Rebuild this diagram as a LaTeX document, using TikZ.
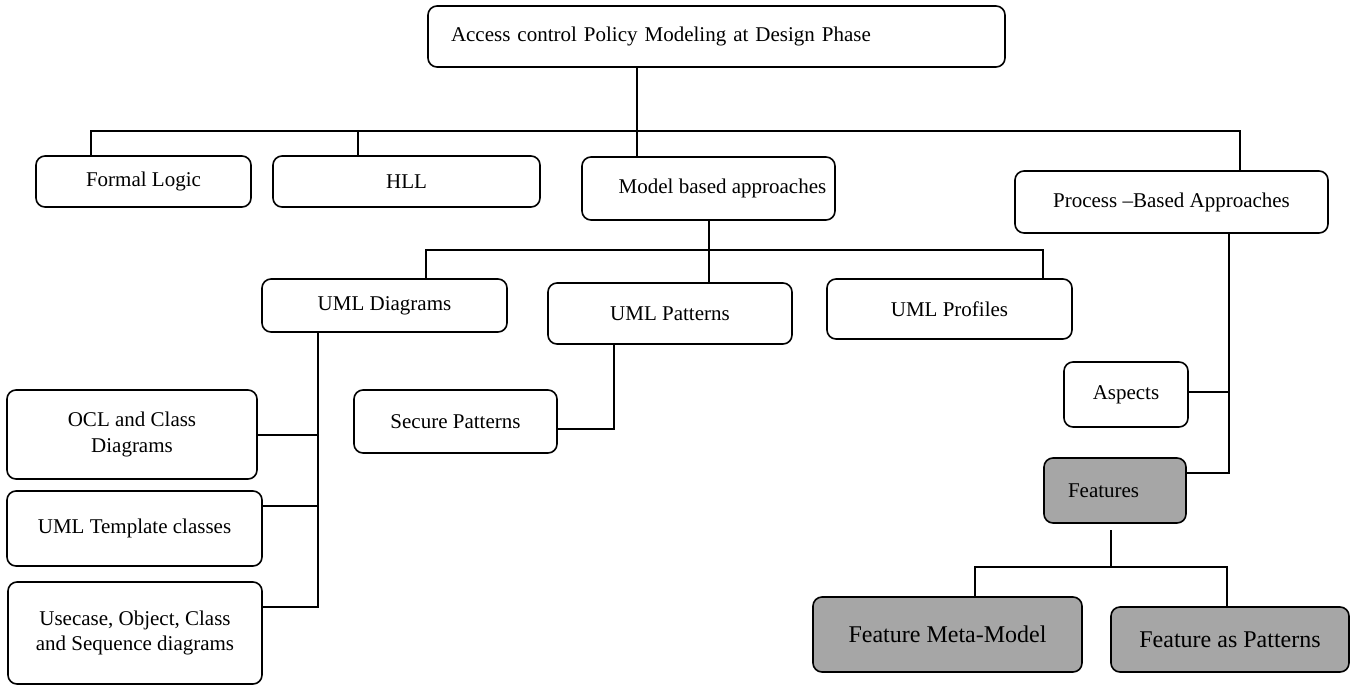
\documentclass[tikz,border=0pt]{standalone}
\usepackage{fontspec}
\setmainfont{Liberation Serif}
\tikzset{
    box/.style={draw, line width=1.6pt, rounded corners=9pt, inner sep=0pt, align=center,
        font=\fontsize{21}{25.5}\selectfont},
    greybox/.style={box, fill=black!35},
    link/.style={line width=1.6pt},
}
\begin{document}
\begin{tikzpicture}[x=1pt, y=-1pt]
            \useasboundingbox (0,0) rectangle (1355,686);

            \node[box, minimum height=61pt, text width=531pt, inner xsep=23pt, align=left] (top) at (716.5,36.5) {Access control Policy Modeling at Design Phase};

            \node[box, minimum width=215pt, minimum height=51pt] (formal) at (143.5,181.5) {Formal Logic};
            \node[box, minimum width=267pt, minimum height=51pt] (hll) at (406.5,181.5) {HLL};
            \node[box, minimum width=253pt, minimum height=63pt] (model) at (708.5,188.5) {\hspace*{28pt}Model based approaches};
            \node[box, minimum width=313pt, minimum height=62pt] (process) at (1171.5,202) {Process –Based Approaches};

            \node[box, minimum width=245pt, minimum height=53pt] (umldiag) at (384.5,305.5) {UML Diagrams};
            \node[box, minimum width=244pt, minimum height=61pt] (umlpat) at (670,313.5) {UML Patterns};
            \node[box, minimum width=245pt, minimum height=60pt] (umlprof) at (949.5,309) {UML Profiles};

            \node[box, minimum width=203pt, minimum height=63pt] (secure) at (455.5,421.5) {Secure Patterns};

            \node[box, minimum width=250pt, minimum height=89pt] (ocl) at (132,434.5) {OCL and Class\\Diagrams};
            \node[box, minimum width=255pt, minimum height=75pt] (templ) at (134.5,528.5) {UML Template classes};
            \node[box, minimum width=254pt, minimum height=102pt] (usecase) at (135,633) {Usecase, Object, Class\\and Sequence diagrams};

            \node[box, minimum width=124pt, minimum height=65pt] (aspects) at (1126,394.5) {Aspects};
            \node[greybox, minimum height=65pt, text width=94pt, inner xsep=24pt, align=left] (features) at (1115,490.5) {Features};
            \node[greybox, minimum width=269pt, minimum height=75pt, font=\fontsize{24}{28}\selectfont] (meta) at (947.5,634.5) {Feature Meta-Model};
            \node[greybox, minimum width=238pt, minimum height=65pt, font=\fontsize{24}{28}\selectfont] (featpat) at (1230,639.5) {Feature as Patterns};

            \coordinate (b1a) at (91,131);
            \coordinate (b1b) at (358,131);
            \coordinate (b1c) at (637,131);
            \coordinate (b1d) at (1240,131);

            \coordinate (b2a) at (426,250);
            \coordinate (b2b) at (709,250);
            \coordinate (b2c) at (1043,250);

            \coordinate (dtrunk) at (318,0);
            \coordinate (ptrunk) at (614,429);
            \coordinate (rtrunk) at (1229,0);

            \coordinate (fstub) at (1111,530);
            \coordinate (b3a) at (975,567);
            \coordinate (b3b) at (1227,567);

            \draw[link] (b1a |- formal.north) -- (b1a) -- (b1d) -- (b1d |- process.north);
            \draw[link] (b1b) -- (b1b |- hll.north);
            \draw[link] (b1c |- top.south) -- (b1c |- model.north);

            \draw[link] (b2a |- umldiag.north) -- (b2a) -- (b2c) -- (b2c |- umlprof.north);
            \draw[link] (b2b |- model.south) -- (b2b |- umlpat.north);

            \draw[link] (dtrunk |- umldiag.south) -- (dtrunk |- 0,607) -- (usecase.east |- 0,607);
            \draw[link] (dtrunk |- 0,435) -- (ocl.east |- 0,435);
            \draw[link] (dtrunk |- 0,506) -- (templ.east |- 0,506);

            \draw[link] (ptrunk |- umlpat.south) -- (ptrunk) -- (secure.east |- ptrunk);

            \draw[link] (rtrunk |- process.south) -- (rtrunk |- 0,473) -- (features.east |- 0,473);
            \draw[link] (rtrunk |- 0,392) -- (aspects.east |- 0,392);

            \draw[link] (fstub) -- (fstub |- b3a);
            \draw[link] (b3a |- meta.north) -- (b3a) -- (b3b) -- (b3b |- featpat.north);
\end{tikzpicture}
\end{document}
